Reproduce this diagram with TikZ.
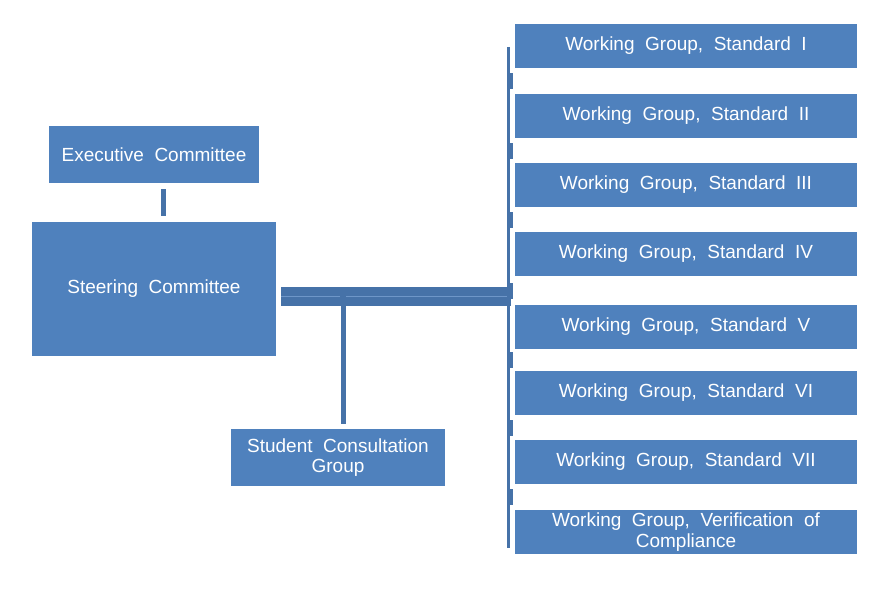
\documentclass[tikz,border=0pt]{standalone}
\usepackage{fontspec}
\setmainfont{Liberation Sans}[WordSpace=2]
\usepackage{xcolor}
\usetikzlibrary{positioning,calc}
\definecolor{boxblue}{RGB}{79,129,189}
\definecolor{linkblue}{RGB}{70,114,168}
\definecolor{seam}{RGB}{110,150,200}
\newdimen\px \px=0.75pt
\tikzset{
  box/.style  = {fill=boxblue, draw=none, text=white, align=center, inner sep=0pt,
                 font=\fontsize{14.25}{15.5}\selectfont},
  wg/.style   = {box, minimum width=342\px, minimum height=44\px},
  link/.style = {draw=linkblue, line width=5\px},
  bus/.style  = {draw=linkblue, line width=19\px},
  rail/.style = {draw=linkblue, line width=2.5\px},
}

\begin{document}
\begin{tikzpicture}[x=1\px, y=-1\px]
\useasboundingbox (0,0) rectangle (887,592);

% Stage 1: committees on the left
\node[box, minimum width=210\px, minimum height=57\px] (exec) at (154,154.5) {Executive Committee};
\node[box, minimum width=244\px, minimum height=134\px] (steer) at (154,289) {Steering Committee};
\node[box, minimum width=214\px, minimum height=57\px] (student) at (338,457.5)
  {Student Consultation\\Group};

% Stage 2: working groups on the right
\node[wg] (wg1) at (686,46)  {Working Group, Standard I};
\node[wg] (wg2) at (686,116) {Working Group, Standard II};
\node[wg] (wg3) at (686,185) {Working Group, Standard III};
\node[wg] (wg4) at (686,254) {Working Group, Standard IV};
\node[wg] (wg5) at (686,327) {Working Group, Standard V};
\node[wg] (wg6) at (686,393) {Working Group, Standard VI};
\node[wg] (wg7) at (686,462) {Working Group, Standard VII};
\node[wg] (wg8) at (686,532) {Working Group, Verification of\\Compliance};

% Stage 3: connectors
\coordinate (hub) at (511,296.5);
\coordinate (drop) at (343,306);
\draw[link] ([xshift=9.5\px,yshift=-6\px]exec.south) -- ([xshift=9.5\px,yshift=6\px]steer.north);
\draw[bus] ([xshift=5\px]steer.east |- hub) -- (hub);
\draw[seam, line width=0.6pt] ([xshift=5\px]steer.east |- hub) -- ([xshift=-3\px]drop |- hub);
\draw[seam, line width=0.6pt] ([xshift=3\px]drop |- hub) -- ([xshift=-3\px]hub);
\draw[link] (drop) -- ([yshift=5\px]drop |- student.north);
\draw[rail] ([xshift=-6\px,yshift=-1\px]wg1.west) -- ([xshift=-6\px,yshift=6\px]wg8.south west);
\foreach \i/\j in {1/2,2/3,3/4,4/5,5/6,6/7,7/8}{%
  \fill[linkblue] ($(wg\i.south west)!0.5!(wg\j.north west)+(-7,-8)$) rectangle ++(5,16);}
\end{tikzpicture}
\end{document}
